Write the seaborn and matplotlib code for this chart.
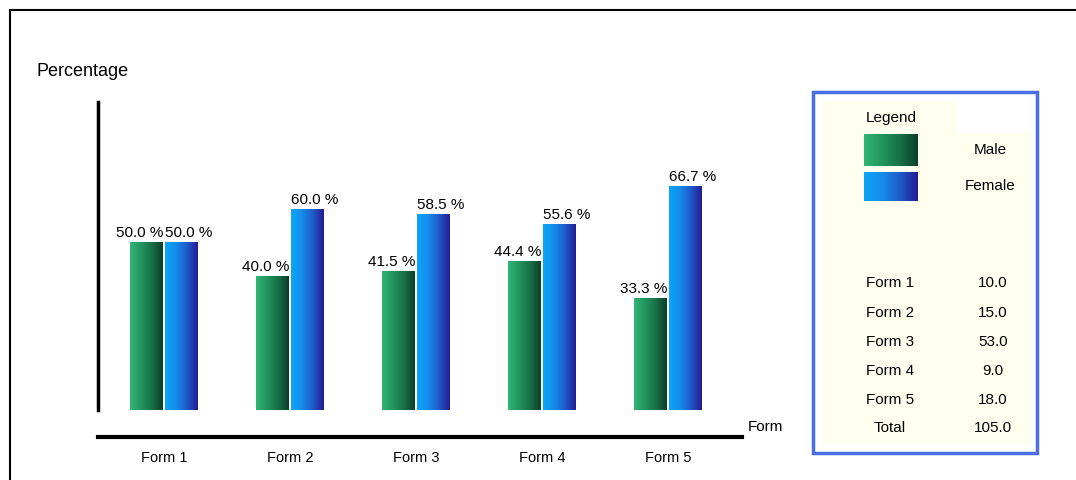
import numpy as np
import pandas as pd
import matplotlib
matplotlib.use("Agg")
import matplotlib.pyplot as plt
from matplotlib.colors import LinearSegmentedColormap
from matplotlib.patches import Rectangle
import seaborn as sns

# data
forms = ["Form 1", "Form 2", "Form 3", "Form 4", "Form 5"]
male = [50.0, 40.0, 41.5, 44.4, 33.3]
female = [50.0, 60.0, 58.5, 55.6, 66.7]
counts = [10.0, 15.0, 53.0, 9.0, 18.0]
genders = ["Male", "Female"]

df = pd.DataFrame({
    "Form": forms * 2,
    "Gender": ["Male"] * len(forms) + ["Female"] * len(forms),
    "Percentage": male + female,
})

sns.set_style("white")
plt.rcParams["font.family"] = ["Liberation Sans", "DejaVu Sans"]
plt.rcParams["text.color"] = "black"
plt.rcParams["axes.labelcolor"] = "black"
plt.rcParams["xtick.color"] = "black"
plt.rcParams["axes.edgecolor"] = "black"

green_cm = LinearSegmentedColormap.from_list("g", ["#30b474", "#22955d", "#177148", "#0c4029"])
blue_cm = LinearSegmentedColormap.from_list("b", ["#0aa6f8", "#168ceb", "#1f5cc8", "#241c94"])
cmaps = [green_cm, blue_cm]
grad = np.linspace(0, 1, 64).reshape(1, -1)

W, H = 1076, 480
fig = plt.figure(figsize=(W / 100, H / 100), dpi=100)

# main plot area, in pixel coordinates of the reference
x0, x1, ytop, ybot = 98, 742, 102, 410
ax = fig.add_axes([x0 / W, 1 - ybot / H, (x1 - x0) / W, (ybot - ytop) / H])

sns.barplot(data=df, x="Form", y="Percentage", hue="Gender", hue_order=genders,
            palette=["#22955d", "#168ceb"], saturation=1, width=0.556, gap=0.06,
            legend=False, ax=ax)

# gradient fill + value labels
for k, cont in enumerate(ax.containers):
    for bar in cont:
        bx, bw, bh = bar.get_x(), bar.get_width(), bar.get_height()
        bar.set_facecolor("none")
        bar.set_edgecolor("none")
        im = ax.imshow(grad, cmap=cmaps[k], extent=[bx, bx + bw, 0, bh],
                       aspect="auto", zorder=2)
        im.set_clip_path(bar)
        if k == 0:
            ax.text(bx + bw, bh + 0.6, f"{bh:.1f} %", ha="right", va="bottom", fontsize=11)
        else:
            ax.text(bx, bh + 0.6, f"{bh:.1f} %", ha="left", va="bottom", fontsize=11)

ax.set_xlim(-0.524, 4.587)
ax.set_ylim(0, 91.9)
ax.set_yticks([])
ax.tick_params(axis="x", length=0, pad=10, labelsize=10.5)
sns.despine(ax=ax)
ax.spines["left"].set_linewidth(2.5)
ax.spines["bottom"].set_linewidth(3)
ax.spines["bottom"].set_position(("outward", 19.5))
ax.set_ylabel("Percentage", rotation=0, ha="left", va="center", fontsize=13)
ax.yaxis.set_label_coords(-0.095, 1.10)
ax.set_xlabel("Form", ha="left", va="center", fontsize=11)
ax.xaxis.set_label_coords(1.009, -0.055)

# overlay in pixel coordinates for frame and legend panel
ov = fig.add_axes([0, 0, 1, 1])
ov.set_xlim(0, W)
ov.set_ylim(H, 0)
ov.axis("off")
ov.plot([10, W], [10, 10], color="black", lw=1.5)
ov.plot([10, 10], [10, H], color="black", lw=1.5)

ov.add_patch(Rectangle((813, 92), 224, 361, facecolor="white", edgecolor="#4a6fe3", lw=2.5))
ov.add_patch(Rectangle((822, 101), 208, 343, facecolor="#fffff0", edgecolor="none"))
ov.add_patch(Rectangle((958, 101), 72, 32, facecolor="white", edgecolor="none"))

ov.text(891, 118, "Legend", ha="center", va="center", fontsize=11)
sw_y = [(134, 166), (172, 201)]
for k, name in enumerate(genders):
    ya, yb = sw_y[k]
    ov.imshow(grad, cmap=cmaps[k], extent=[864, 918, yb, ya], aspect="auto", zorder=3)
    ov.text(990, (ya + yb) / 2, name, ha="center", va="center", fontsize=11)

rows = forms + ["Total"]
vals = counts + [sum(counts)]
row_y = [283, 313, 342, 371, 400, 428]
for lab, v, yy in zip(rows, vals, row_y):
    ov.text(890, yy, lab, ha="center", va="center", fontsize=11)
    ov.text(993, yy, f"{v:.1f}", ha="center", va="center", fontsize=11)
ov.set_xlim(0, W)
ov.set_ylim(H, 0)

fig.savefig("out.png", dpi=100)
